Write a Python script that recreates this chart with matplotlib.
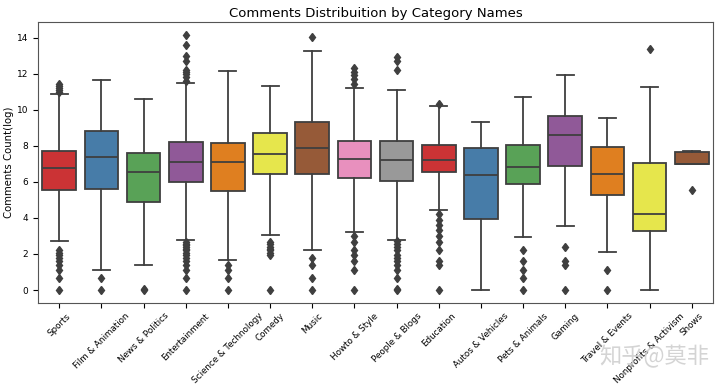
import colorsys
import matplotlib
matplotlib.use("Agg")
import matplotlib.pyplot as plt
import matplotlib.colors as mcolors

categories = ["Sports", "Film & Animation", "News & Politics", "Entertainment",
              "Science & Technology", "Comedy", "Music", "Howto & Style",
              "People & Blogs", "Education", "Autos & Vehicles", "Pets & Animals",
              "Gaming", "Travel & Events", "Nonprofits & Activism", "Shows"]

whislo = [2.70, 1.12, 1.40, 2.79, 1.65, 3.07, 2.23, 3.22, 2.79, 4.41, 0.0, 2.92, 3.55, 2.12, 0.0, 6.97]
q1 = [5.55, 5.61, 4.89, 5.99, 5.50, 6.45, 6.45, 6.20, 6.06, 6.54, 3.95, 5.88, 6.89, 5.26, 3.27, 6.97]
med = [6.78, 7.37, 6.54, 7.08, 7.08, 7.55, 7.88, 7.28, 7.19, 7.19, 6.38, 6.84, 8.57, 6.45, 4.23, 6.99]
q3 = [7.70, 8.79, 7.59, 8.20, 8.16, 8.73, 9.30, 8.27, 8.27, 8.03, 7.85, 8.03, 9.65, 7.94, 7.06, 7.65]
whishi = [10.88, 11.65, 10.60, 11.47, 12.13, 11.32, 13.23, 11.20, 11.08, 10.18, 9.32, 10.70, 11.93, 9.56, 11.27, 7.72]
fliers = [
    [0.0, 0.69, 1.1, 1.39, 1.61, 1.79, 1.95, 2.08, 2.2, 11.0, 11.1, 11.2, 11.3, 11.4],
    [0.0, 0.69],
    [0.0, 0.05],
    [0.0, 0.69, 1.1, 1.39, 1.61, 1.79, 1.95, 2.08, 2.2, 2.3, 2.4, 2.48, 2.56, 2.64,
     11.6, 11.8, 11.95, 12.1, 12.2, 12.7, 12.95, 13.6, 14.15],
    [0.0, 0.69, 1.1, 1.39],
    [0.0, 1.95, 2.08, 2.2, 2.3, 2.4, 2.56, 2.64],
    [0.0, 0.69, 1.39, 1.79, 14.05],
    [0.0, 1.1, 1.61, 1.95, 2.2, 2.64, 3.0, 11.45, 11.7, 11.9, 12.1, 12.3],
    [0.0, 0.05, 0.69, 1.1, 1.39, 1.61, 1.79, 1.95, 2.2, 2.4, 2.56, 2.7, 12.2, 12.7, 12.9],
    [0.0, 1.39, 1.61, 2.2, 2.64, 3.0, 3.33, 3.61, 3.9, 4.2, 10.3],
    [],
    [0.0, 0.69, 1.1, 1.61, 2.2],
    [0.0, 1.39, 1.61, 2.4],
    [0.0, 1.1],
    [13.38],
    [5.57],
]

base_palette = ["#e41a1c", "#377eb8", "#4daf4a", "#984ea3", "#ff7f00",
                "#ffff33", "#a65628", "#f781bf", "#999999"]


def desat(c, prop=0.75):
    r, g, b = mcolors.to_rgb(c)
    h, l, s = colorsys.rgb_to_hls(r, g, b)
    return colorsys.hls_to_rgb(h, l, s * prop)


colors = [desat(base_palette[i % len(base_palette)]) for i in range(len(categories))]
line_gray = "#3f3f3f"

fig = plt.figure(figsize=(7.2, 3.89), dpi=100)
ax = fig.add_axes([0.053, 0.221, 0.937, 0.722])

stats = []
for i, name in enumerate(categories):
    stats.append(dict(label=name, whislo=whislo[i], q1=q1[i], med=med[i],
                      q3=q3[i], whishi=whishi[i], fliers=fliers[i]))

bp = ax.bxp(stats, positions=range(len(categories)), widths=0.8,
            patch_artist=True, showfliers=True,
            boxprops=dict(edgecolor=line_gray, linewidth=1.3),
            medianprops=dict(color=line_gray, linewidth=1.3),
            whiskerprops=dict(color=line_gray, linewidth=1.3),
            capprops=dict(color=line_gray, linewidth=1.3),
            flierprops=dict(marker="d", markerfacecolor=line_gray,
                            markeredgecolor=line_gray, markersize=4.5))
for patch, c in zip(bp["boxes"], colors):
    patch.set_facecolor(c)

ax.set_xlim(-0.5, len(categories) - 0.5)
ax.set_ylim(-0.72, 14.85)
ax.set_yticks(range(0, 15, 2))
ax.set_xticks(range(len(categories)))
ax.set_xticklabels(categories, rotation=45, fontsize=6.3)
ax.tick_params(axis="y", labelsize=6.5)
ax.tick_params(axis="x", pad=2.5)
ax.set_ylabel("Comments Count(log)", fontsize=7.3, labelpad=2)
ax.set_title("Comments Distribuition by Category Names", fontsize=9.5, pad=4)
for s in ax.spines.values():
    s.set_color("#555555")

fig.text(0.985, 0.083, "知乎@莫非", fontsize=16, color="#d0d0d0", alpha=0.9,
         ha="right", va="center", family=["Noto Sans CJK SC", "DejaVu Sans"])

fig.savefig("out.png", dpi=100)
